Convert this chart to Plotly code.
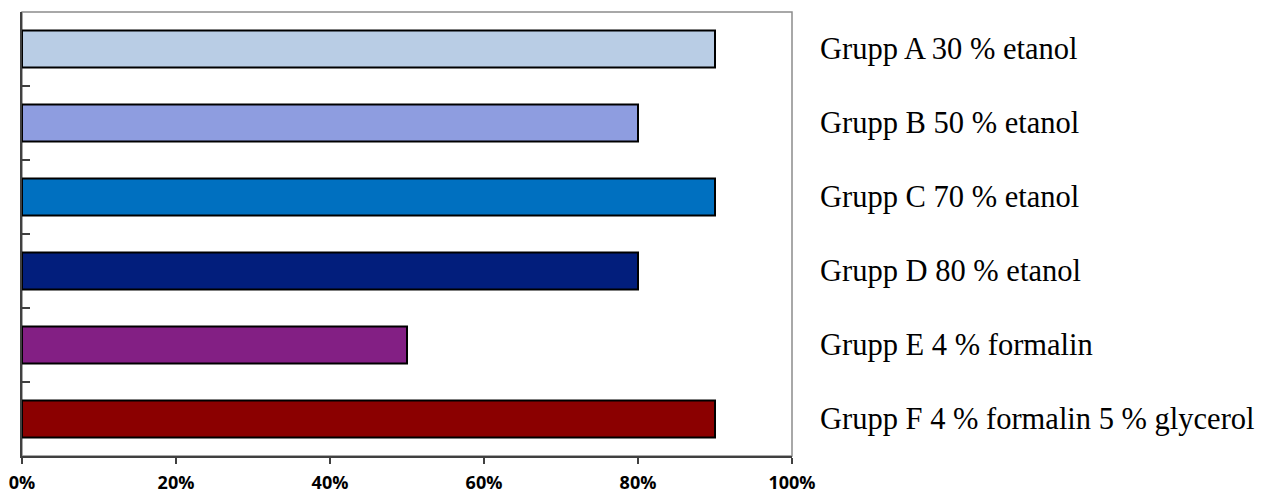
import plotly.graph_objects as go

categories = ["Grupp A 30 % etanol", "Grupp B 50 % etanol", "Grupp C 70 % etanol",
              "Grupp D 80 % etanol", "Grupp E 4 % formalin", "Grupp F 4 % formalin 5 % glycerol"]
values = [0.90, 0.80, 0.90, 0.80, 0.50, 0.90]
colors = ["#B9CDE5", "#8E9DE0", "#0070C0", "#021E7C", "#831F84", "#8B0000"]
x_tickvals = [0, 0.2, 0.4, 0.6, 0.8, 1.0]

n = len(categories)
ypos = list(range(n))

fig = go.Figure()
fig.add_trace(go.Bar(
    x=values, y=ypos, orientation="h",
    marker=dict(color=colors, line=dict(color="#000000", width=2)),
    width=0.5, hoverinfo="skip",
))

for i, c in enumerate(categories):
    fig.add_annotation(x=1, y=i, xref="paper", yref="y", text=c, showarrow=False,
                       xanchor="left", yanchor="middle", xshift=26,
                       font=dict(family="Liberation Serif", size=30.5, color="#000000"))

fig.add_shape(type="rect", xref="paper", yref="paper", x0=0, x1=1, y0=0, y1=1,
              line=dict(color="#8C8C8C", width=1.5), layer="below")

fig.update_layout(
    width=1267, height=493,
    margin=dict(l=22, r=475, t=12, b=37),
    plot_bgcolor="white", paper_bgcolor="white",
    showlegend=False,
    xaxis=dict(range=[0, 1], tickvals=x_tickvals, tickformat=".0%",
               ticks="outside", ticklen=6, tickcolor="#404040", tickwidth=1.5,
               showline=True, linecolor="#404040", linewidth=2,
               showgrid=False, zeroline=False, automargin=False,
               ticklabelstandoff=3,
               tickfont=dict(family="Open Sans", size=18, color="#000000", weight="bold")),
    yaxis=dict(range=[n - 0.5, -0.5], tickvals=[k - 0.5 for k in range(n + 1)],
               showticklabels=False, ticks="inside", ticklen=8, tickcolor="#404040",
               tickwidth=1.5, showline=True, linecolor="#404040", linewidth=2,
               showgrid=False, zeroline=False, automargin=False),
)

fig.write_html("out.html")
